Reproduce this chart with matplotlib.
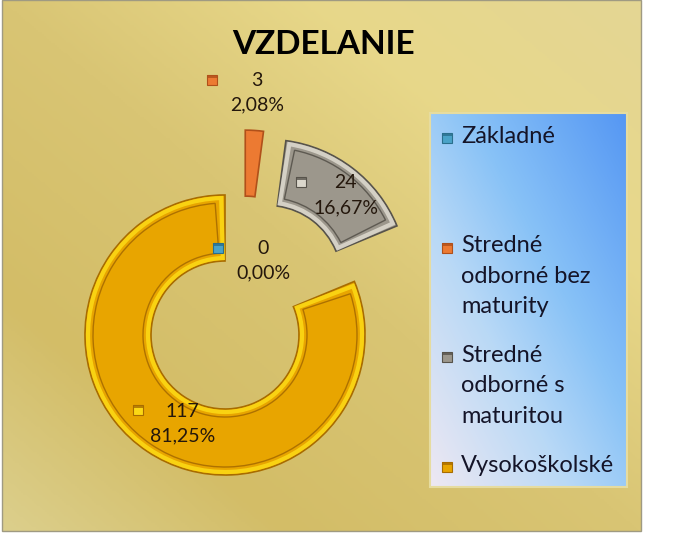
import textwrap
import numpy as np
import matplotlib
matplotlib.use('Agg')
import matplotlib.pyplot as plt
from matplotlib.patches import Wedge, Rectangle
from matplotlib.colors import LinearSegmentedColormap

W, H = 682, 547

title = 'VZDELANIE'
categories = ['Základné', 'Stredné odborné bez maturity',
              'Stredné odborné s maturitou', 'Vysokoškolské']
counts = [0, 3, 24, 117]

# colours: face, bevel highlight, bevel shadow
face_colors = ['#4aa3c8', '#ec7a32', '#9c978c', '#e8a500']
rim_colors = ['#9fd8ee', '#f6b07a', '#dbd7cc', '#fbd815']
shade_colors = ['#2a6f8c', '#b0501a', '#57534b', '#a86c00']

# layout in pixels (y measured from the top)
cx, cy = 225, 335
R_OUT, RING = 140, 66
explode = [0, 65, 70, 0]
extra_shift = [0, 16, 0, 0]
label_r = [82, 245, 185, 98]
label_nudge = [(38, 8), (16, 2), (8, 7), (12, 7)]

plt.rcParams['font.family'] = ['Lato', 'DejaVu Sans']


def up(y):
    return H - y


def pct_text(v, total):
    return f'{v / total * 100:.2f}%'.replace('.', ',')


def key_marker(x, y_top, i, face):
    # small bevelled legend key, y_top measured from the top
    ax.add_patch(Rectangle((x, up(y_top + 10)), 10, 10, facecolor=face,
                           edgecolor=shade_colors[i], linewidth=0.8, zorder=6))
    ax.add_patch(Rectangle((x, up(y_top + 3)), 10, 3, facecolor=shade_colors[i],
                           edgecolor='none', alpha=0.8, zorder=6))


fig = plt.figure(figsize=(W / 100, H / 100), dpi=100, facecolor='white')
ax = fig.add_axes([0, 0, 1, 1])

# gold background of the chart area
gx0, gx1, gy0, gy1 = 2, 641, 0, 531
uu, vv = np.meshgrid(np.linspace(0, 1, 300), np.linspace(0, 1, 250))
t = (uu - vv + 1) / 2
gold = LinearSegmentedColormap.from_list('gold', [
    (0.0, '#dccf8c'), (0.22, '#d3bd67'), (0.5, '#d9c574'),
    (0.75, '#e8d88a'), (1.0, '#e4d694')])
ax.imshow(t, cmap=gold, extent=(gx0, gx1, up(gy1), up(gy0)),
          origin='upper', aspect='auto', zorder=0)
ax.add_patch(Rectangle((gx0, up(gy1)), gx1 - gx0, gy1 - gy0, fill=False,
                       edgecolor='#9f9a82', linewidth=1, zorder=1))

total = sum(counts)
wedges, _ = ax.pie(counts, radius=R_OUT, center=(cx, up(cy)), startangle=90,
                   counterclock=False, explode=explode, colors=face_colors,
                   wedgeprops=dict(width=RING, linewidth=1.2))

for i, w in enumerate(wedges):
    w.set_zorder(2)
    w.set_edgecolor(shade_colors[i])
    if extra_shift[i]:
        w.set_center((w.center[0] + extra_shift[i], w.center[1]))
    span = w.theta2 - w.theta1
    if counts[i] == 0:
        w.set_visible(False)
        continue
    inner = w.r - w.width
    if np.radians(span) * inner < 25:
        continue
    for inset, col, lw in [(3, rim_colors[i], 3.0), (8, shade_colors[i], 1.0)]:
        r_mid = w.r - w.width / 2
        d = np.degrees(inset / r_mid)
        ax.add_patch(Wedge(w.center, w.r - inset, w.theta1 + d, w.theta2 - d,
                           width=w.width - 2 * inset, fill=False,
                           edgecolor=col, linewidth=lw, alpha=0.9, zorder=3))

# data labels: legend key + value + percentage
for i, w in enumerate(wedges):
    mid = np.radians((w.theta1 + w.theta2) / 2)
    tx = cx + label_r[i] * np.cos(mid) + label_nudge[i][0]
    ty = cy - label_r[i] * np.sin(mid) + label_nudge[i][1]
    ax.text(tx, up(ty), f'{counts[i]}\n{pct_text(counts[i], total)}',
            ha='center', va='center', fontsize=14, linespacing=1.55,
            color='#24170c', zorder=5)
    key_marker(tx - 50, ty - 18, i, rim_colors[i] if i >= 2 else face_colors[i])

ax.text(323, up(45), title, ha='center', va='center', fontsize=24,
        fontweight='bold', color='black', zorder=5)

# legend box with blue gradient
lx0, lx1, ly0, ly1 = 430, 627, 113, 487
lu, lv = np.meshgrid(np.linspace(0, 1, 200), np.linspace(1, 0, 380))
lt = (lu + lv) / 2
blue = LinearSegmentedColormap.from_list('blue', [
    (0.0, '#eee8f2'), (0.35, '#b9d9f6'), (0.6, '#88c2f7'), (1.0, '#5597f3')])
ax.imshow(lt, cmap=blue, extent=(lx0, lx1, up(ly1), up(ly0)),
          origin='upper', aspect='auto', zorder=4)
ax.add_patch(Rectangle((lx0, up(ly1)), lx1 - lx0, ly1 - ly0, fill=False,
                       edgecolor='#e6dca0', linewidth=1.5, zorder=4))

for i, name in enumerate(categories):
    top = 126 + i * 109.5
    label = textwrap.fill(name, width=12, break_long_words=False)
    ax.text(461, up(top), label, ha='left', va='top', fontsize=17,
            linespacing=1.55, color='#141428', zorder=6)
    key_marker(442, top + 7, i, face_colors[i])

ax.set_xlim(0, W)
ax.set_ylim(0, H)
ax.set_aspect('equal')
ax.axis('off')

fig.savefig('out.png', dpi=100, facecolor='white')
